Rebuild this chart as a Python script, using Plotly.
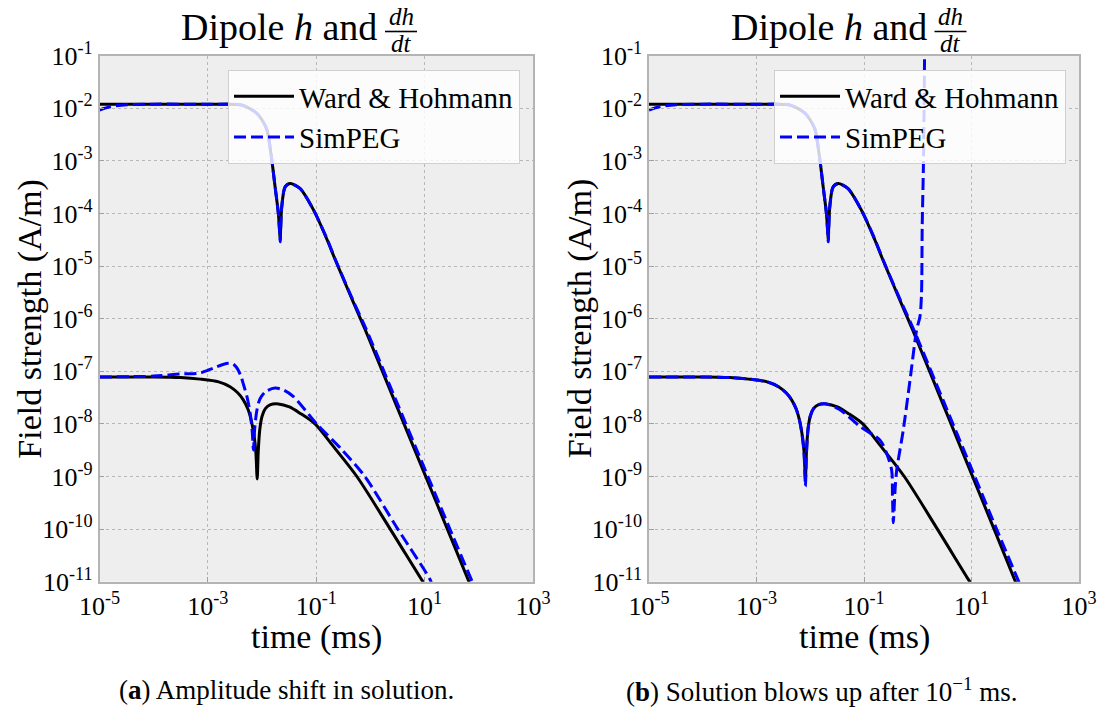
import plotly.graph_objects as go

W, H = 1099, 708


def fx(x):
    return x / W


def fy(y):
    return 1 - y / H


# ---------------- data (time in ms, field in A/m) ----------------
# Ward & Hohmann dh/dt (upper curve)
wh_dhdt_t = [1e-5, 1e-4, 1e-3, 3.98e-3, 5.62e-3, 7.94e-3, 1.0e-2, 1.23e-2, 1.51e-2, 1.74e-2,
             2.0e-2, 2.11e-2, 2.16e-2, 2.21e-2, 2.31e-2, 2.67e-2, 3.31e-2, 5.0e-2, 8.9e-2,
             0.158, 0.224, 0.50, 0.794, 3.16, 10.0, 31.6, 70.8]
wh_dhdt_v = [1.2e-2, 1.2e-2, 1.19e-2, 1.17e-2, 1.02e-2, 8.1e-3, 6.0e-3, 3.9e-3, 1.05e-3, 3.2e-4,
             1.0e-4, 4.5e-5, 3.2e-5, 5.6e-5, 1.35e-4, 3.2e-4, 3.7e-4, 3.0e-4, 1.17e-4,
             3.2e-5, 1.32e-5, 1.9e-6, 6.3e-7, 2.0e-8, 1.12e-9, 6.3e-11, 8.3e-12]

# SimPEG dh/dt (upper curve)
sp_dhdt_t = [1e-5, 1.58e-5, 3.16e-5, 1e-4, 1e-3, 3.98e-3, 5.62e-3, 7.94e-3, 1.0e-2, 1.23e-2,
             1.51e-2, 1.74e-2, 2.0e-2, 2.11e-2, 2.16e-2, 2.21e-2, 2.31e-2, 2.67e-2, 3.31e-2,
             5.0e-2, 8.9e-2, 0.158, 0.224, 0.50, 0.794, 3.16, 10.0, 31.6, 79.4]
sp_dhdt_v = [9.3e-3, 1.07e-2, 1.17e-2, 1.2e-2, 1.19e-2, 1.17e-2, 1.02e-2, 8.1e-3, 6.0e-3, 3.9e-3,
             1.05e-3, 3.2e-4, 1.0e-4, 4.3e-5, 2.9e-5, 5.4e-5, 1.35e-4, 3.2e-4, 3.7e-4,
             3.0e-4, 1.17e-4, 3.3e-5, 1.35e-5, 2.0e-6, 7.1e-7, 2.4e-8, 1.41e-9, 8.3e-11, 8.9e-12]

# Ward & Hohmann h (lower curve)
wh_h_t = [1e-5, 1e-4, 3.16e-4, 7.2e-4, 1.58e-3, 2.57e-3, 3.55e-3, 4.47e-3, 5.5e-3, 6.4e-3,
          7.2e-3, 7.7e-3, 8.13e-3, 8.5e-3, 9.1e-3, 1.0e-2, 1.15e-2, 1.4e-2, 2.0e-2, 3.2e-2,
          5.0e-2, 9.5e-2, 0.2, 0.562, 2.32, 8.91, 10.0]
wh_h_v = [7.8e-8, 7.8e-8, 7.6e-8, 7.1e-8, 6.3e-8, 5.1e-8, 3.9e-8, 2.9e-8, 1.9e-8, 1.1e-8,
          5.5e-9, 2.8e-9, 9.0e-10, 3.0e-9, 8.0e-9, 1.4e-8, 1.95e-8, 2.3e-8, 2.4e-8, 2.1e-8,
          1.6e-8, 1.0e-8, 3.9e-9, 1.0e-9, 1.0e-10, 1.07e-11, 9.0e-12]

# SimPEG h, run (a): amplitude shift
sp_h_a_t = [1e-5, 1e-4, 3.16e-4, 7.2e-4, 1.26e-3, 1.9e-3, 2.4e-3, 2.9e-3, 3.39e-3, 4.0e-3,
            4.57e-3, 5.3e-3, 6.03e-3, 6.6e-3, 6.92e-3, 7.3e-3, 7.94e-3, 8.8e-3, 9.89e-3, 1.2e-2,
            1.74e-2, 2.5e-2, 3.8e-2, 0.102, 0.3, 0.79, 3.2, 12.6, 13.8]
sp_h_a_v = [7.8e-8, 8.1e-8, 8.9e-8, 9.3e-8, 1.15e-7, 1.35e-7, 1.42e-7, 1.38e-7, 1.18e-7, 8.5e-8,
            5.5e-8, 3.2e-8, 1.6e-8, 7.0e-9, 3.2e-9, 8.0e-9, 1.7e-8, 2.7e-8, 3.4e-8, 4.2e-8,
            4.8e-8, 4.4e-8, 3.3e-8, 1.0e-8, 3.2e-9, 1.0e-9, 1.0e-10, 1.1e-11, 8.5e-12]

# SimPEG h, run (b): blows up after 1e-1 ms
sp_h_b_t = [1e-5, 1e-4, 3.16e-4, 7.2e-4, 1.58e-3, 2.57e-3, 3.55e-3, 4.47e-3, 5.5e-3, 6.4e-3,
            7.2e-3, 7.7e-3, 8.13e-3, 8.5e-3, 9.1e-3, 1.0e-2, 1.15e-2, 1.4e-2, 2.0e-2, 3.57e-2,
            8.5e-2, 0.199, 0.264, 0.327, 0.339, 0.351, 0.378, 0.406, 0.537, 0.718, 0.955, 1.10,
            1.175, 1.21, 1.28, 1.337, 1.365]
sp_h_b_v = [7.8e-8, 7.8e-8, 7.6e-8, 7.1e-8, 6.3e-8, 5.1e-8, 3.9e-8, 2.9e-8, 1.9e-8, 1.1e-8,
            5.2e-9, 2.5e-9, 6.5e-10, 2.7e-9, 8.0e-9, 1.4e-8, 1.95e-8, 2.3e-8, 2.4e-8, 1.86e-8,
            8.9e-9, 4.9e-9, 2.75e-9, 1.32e-9, 4.2e-10, 1.32e-10, 5.5e-10, 1.32e-9, 7.6e-9, 6.8e-8,
            6.2e-7, 1.1e-6, 3.0e-6, 5.6e-5, 1.05e-3, 8.3e-2, 1.0]

x_tickvals = [1e-5, 1e-3, 1e-1, 1e1, 1e3]
x_ticktext = ["10<sup>-5</sup>", "10<sup>-3</sup>", "10<sup>-1</sup>", "10<sup>1</sup>", "10<sup>3</sup>"]
y_tickvals = [10.0 ** (-k) for k in range(11, 0, -1)]
y_ticktext = ["10<sup>-%d</sup>" % k for k in range(11, 0, -1)]

series_names = ["Ward & Hohmann", "SimPEG"]
captions = ["(<b>a</b>) Amplitude shift in solution.",
            "(<b>b</b>) Solution blows up after 10<sup>\u22121</sup> ms."]

# ---------------- styling ----------------
SERIF = "Liberation Serif"
BLACK = "#000000"
BLUE = "#0000ff"
GRID = "#b8b8b8"
FRAME = "#b4b4b4"
BG = "#eeeeee"
DASH = "12px,5px"

# plot-area geometry in page pixels
panels = [(99.5, 533.0), (649.0, 1079.0)]
TOP, BOTTOM = 55.7, 581.7

fig = go.Figure()

lower_sim = [(sp_h_a_t, sp_h_a_v), (sp_h_b_t, sp_h_b_v)]
for i in range(2):
    xa = "x" if i == 0 else "x2"
    ya = "y" if i == 0 else "y2"
    lg = "legend" if i == 0 else "legend2"
    black = dict(color=BLACK, width=3, shape="spline", smoothing=0.8)
    blue = dict(color=BLUE, width=3, dash=DASH, shape="spline", smoothing=0.8)
    fig.add_trace(go.Scatter(x=wh_dhdt_t, y=wh_dhdt_v, mode="lines", line=black,
                             name=series_names[0], legend=lg, xaxis=xa, yaxis=ya))
    fig.add_trace(go.Scatter(x=wh_h_t, y=wh_h_v, mode="lines", line=black,
                             showlegend=False, xaxis=xa, yaxis=ya))
    fig.add_trace(go.Scatter(x=sp_dhdt_t, y=sp_dhdt_v, mode="lines", line=blue,
                             name=series_names[1], legend=lg, xaxis=xa, yaxis=ya))
    fig.add_trace(go.Scatter(x=lower_sim[i][0], y=lower_sim[i][1], mode="lines", line=blue,
                             showlegend=False, xaxis=xa, yaxis=ya))

axis_common = dict(type="log", showgrid=True, gridcolor=GRID, griddash="dot", gridwidth=1,
                   showline=True, linecolor=FRAME, linewidth=1.5, mirror=True, automargin=False,
                   ticks="inside", ticklen=5, tickcolor="#a0a0a0", zeroline=False,
                   tickfont=dict(family=SERIF, size=26, color="#000"))

layout = dict(width=W, height=H, margin=dict(l=0, r=0, t=0, b=0, autoexpand=False),
              paper_bgcolor="white", plot_bgcolor=BG, showlegend=True)

annotations = []
shapes = []
for i, (l, r) in enumerate(panels):
    sfx = "" if i == 0 else "2"
    layout["xaxis" + sfx] = dict(axis_common, range=[-5, 3], domain=[fx(l), fx(r)],
                                 anchor="y" + sfx, tickvals=x_tickvals, ticktext=x_ticktext)
    layout["yaxis" + sfx] = dict(axis_common, range=[-11, -1], domain=[fy(BOTTOM), fy(TOP)],
                                 anchor="x" + sfx, tickvals=y_tickvals, ticktext=y_ticktext)
    layout["legend" + sfx] = dict(x=fx(r - 13), y=fy(70), xanchor="right", yanchor="top",
                                  bgcolor="rgba(255,255,255,0.82)", bordercolor="#d0d0d0",
                                  borderwidth=1, font=dict(family=SERIF, size=29, color="#000"),
                                  itemwidth=60, tracegroupgap=0)
    off = l - panels[0][0]
    # title: "Dipole h and dh/dt" with a stacked fraction
    annotations.append(dict(text="Dipole <i>h</i> and", x=fx(379 + off), y=fy(27),
                            xref="paper", yref="paper", xanchor="right", yanchor="middle",
                            showarrow=False, font=dict(family=SERIF, size=38, color="#000")))
    annotations.append(dict(text="<i>dh</i>", x=fx(401 + off), y=fy(17), xref="paper", yref="paper",
                            xanchor="center", yanchor="middle", showarrow=False,
                            font=dict(family=SERIF, size=25, color="#000")))
    annotations.append(dict(text="<i>dt</i>", x=fx(401 + off), y=fy(44), xref="paper", yref="paper",
                            xanchor="center", yanchor="middle", showarrow=False,
                            font=dict(family=SERIF, size=25, color="#000")))
    shapes.append(dict(type="line", xref="paper", yref="paper",
                       x0=fx(385 + off), x1=fx(417 + off), y0=fy(31.5), y1=fy(31.5),
                       line=dict(color="#000", width=1.6)))
    # axis titles
    annotations.append(dict(text="time (ms)", x=fx((l + r) / 2), y=fy(637), xref="paper", yref="paper",
                            xanchor="center", yanchor="middle", showarrow=False,
                            font=dict(family=SERIF, size=34, color="#000")))
    annotations.append(dict(text="Field strength (A/m)", x=fx(30 + off), y=fy((TOP + BOTTOM) / 2),
                            xref="paper", yref="paper", xanchor="center", yanchor="middle",
                            textangle=-90, showarrow=False,
                            font=dict(family=SERIF, size=34, color="#000")))
    # sub-figure caption
    annotations.append(dict(text=captions[i], x=fx(286 + off * 0.975), y=fy(690), xref="paper", yref="paper",
                            xanchor="center", yanchor="middle", showarrow=False,
                            font=dict(family=SERIF, size=27, color="#000")))

layout["annotations"] = annotations
layout["shapes"] = shapes
fig.update_layout(**layout)

fig.write_html("out.html")
